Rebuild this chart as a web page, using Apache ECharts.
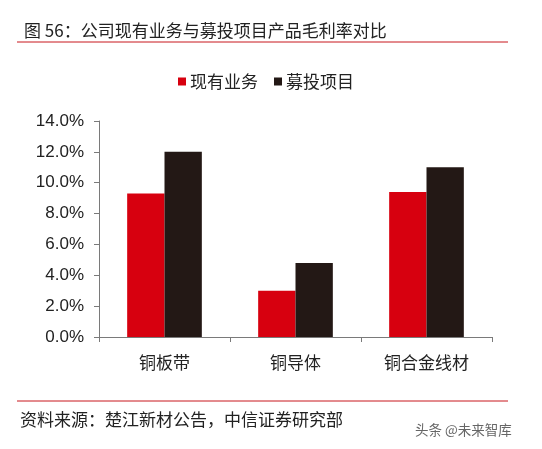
<!DOCTYPE html>
<html><head><meta charset="utf-8">
<script src="https://cdn.jsdelivr.net/npm/echarts@6/dist/echarts.min.js"></script>
<style>html,body{margin:0;padding:0;background:#fff}#c{width:542px;height:449px}</style>
</head><body><div id="c"></div>
<script>
const categories = ['铜板带', '铜导体', '铜合金线材'];
const existing = [9.3, 3.0, 9.4];
const project = [12.0, 4.8, 11.0];
const seriesNames = ['现有业务', '募投项目'];
const yTicks = {min: 0, max: 14, interval: 2};

const font = '"Noto Sans CJK SC", "Liberation Sans", Arial, sans-serif';
const chart = echarts.init(document.getElementById('c'));
chart.setOption({
  backgroundColor: '#fff',
  animation: false,
  title: {
    text: '图 56：公司现有业务与募投项目产品毛利率对比',
    left: 19, top: 17,
    textStyle: {fontFamily: font, fontSize: 17, fontWeight: 'normal', color: '#222'}
  },
  legend: {
    data: seriesNames, top: 68, left: 173,
    itemWidth: 8, itemHeight: 8, itemGap: 16,
    icon: 'rect',
    textStyle: {fontFamily: font, fontSize: 17, color: '#222', padding: [0,0,0,-1]}
  },
  grid: {left: 99, right: 50, top: 121, bottom: 112},
  xAxis: {
    type: 'category', data: categories,
    axisLine: {lineStyle: {color: '#7a7a7a', width: 1}},
    axisTick: {show: true, length: 5, lineStyle: {color: '#7a7a7a'}},
    axisLabel: {fontFamily: font, fontSize: 17, color: '#222', margin: 17}
  },
  yAxis: {
    type: 'value', min: yTicks.min, max: yTicks.max, interval: yTicks.interval,
    axisLine: {show: true, lineStyle: {color: '#7a7a7a', width: 1}},
    axisTick: {show: true, length: 5, lineStyle: {color: '#7a7a7a'}},
    splitLine: {show: false},
    axisLabel: {fontFamily: '"Liberation Sans", Arial, sans-serif', fontSize: 17, color: '#222', margin: 15,
      formatter: v => v.toFixed(1) + '%'}
  },
  series: [
    {name: seriesNames[0], type: 'bar', data: existing, barGap: '0%', barCategoryGap: '43%',
     itemStyle: {color: '#d7000f'}},
    {name: seriesNames[1], type: 'bar', data: project, barGap: '0%', barCategoryGap: '43%',
     itemStyle: {color: '#231815'}}
  ],
  graphic: [
    {type: 'line', shape: {x1: 17, y1: 42, x2: 508, y2: 42}, style: {stroke: '#c8161d', lineWidth: 1}},
    {type: 'line', shape: {x1: 17, y1: 401, x2: 508, y2: 401}, style: {stroke: '#c8161d', lineWidth: 1}},
    {type: 'text', left: 20, top: 411, style: {text: '资料来源：楚江新材公告，中信证券研究部', font: '17px ' + font, fill: '#222'}},
    {type: 'text', left: 415, top: 423, style: {text: '头条 @未来智库', font: '13.5px ' + font, fill: '#666'}}
  ]
});
</script></body></html>
